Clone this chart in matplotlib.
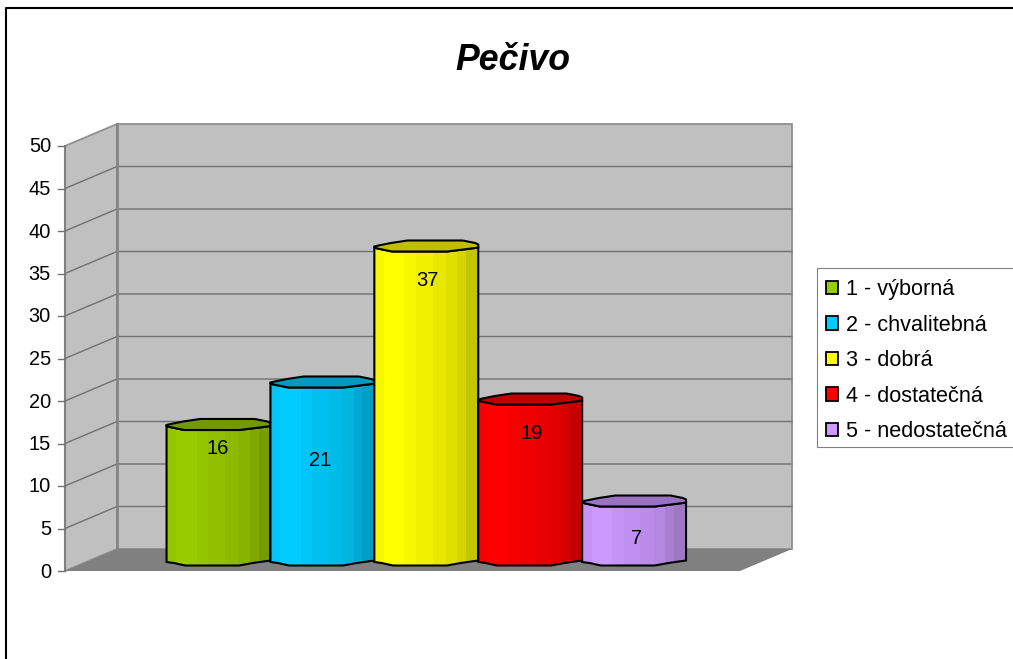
import matplotlib
matplotlib.use("Agg")
import matplotlib.pyplot as plt
from matplotlib.patches import Patch, Polygon
import numpy as np

plt.rcParams["font.family"] = ["Liberation Sans", "DejaVu Sans"]

title = "Pečivo"
categories = ["1 - výborná", "2 - chvalitebná", "3 - dobrá", "4 - dostatečná", "5 - nedostatečná"]
values = [16, 21, 37, 19, 7]
colors = ["#99CC00", "#00CCFF", "#FFFF00", "#FF0000", "#CC99FF"]
y_ticks = list(range(0, 55, 5))

W, H = 1013, 659
PX_X = 103.9  # px per category
PX_Y = 8.5  # px per value unit
X0 = 218.5  # px of first bar centre
Y0 = 571  # px of value 0 on the front axis


def px_x(px):
    return (px - X0) / PX_X


def px_y(px):
    return (Y0 - px) / PX_Y


# depth of the 3d box, in data units
DX = 52 / PX_X
DY = 22 / PX_Y
x_l = px_x(65)
x_r = px_x(740)
y_max = y_ticks[-1]

# shape of the faceted cylinder: (fraction of width, px above corner)
top_back = [(0, 1), (0.04, 2), (0.16, 4.5), (0.32, 7), (0.85, 7), (0.97, 4.5), (1, 3)]
top_front = [(1, 0), (0.97, -0.5), (0.70, -4), (0.17, -4), (0.03, -1), (0, 0)]
bottom = [(0, 0), (0.07, -1), (0.18, -3.5), (0.70, -3.5), (0.83, -1), (1, 1.5)]
bands = [0, 0.095, 0.29, 0.40, 0.56, 0.69, 0.80, 0.885, 1]
shades = [0.97, 1.0, 0.97, 0.94, 0.91, 0.88, 0.83, 0.77]
base_lift = 9 / PX_Y  # bars stand in the middle of the floor
label_drop = [23, 77, 33, 33, 36]  # px below top of bar
label_shift = [-0.5, -2, 1, 1.5, 2]

fig = plt.figure(figsize=(W / 100, H / 100), dpi=100)
ax = fig.add_axes([0, 0, 1, 1])
ax.set_xlim(px_x(0), px_x(W))
ax.set_ylim(px_y(H), px_y(0))
ax.axis("off")

# frame round the chart
ax.plot([px_x(W + 5), px_x(6), px_x(6)], [px_y(8), px_y(8), px_y(H + 5)], color="black", lw=1.5, zorder=1)

# walls and floor
wall = dict(facecolor="#C0C0C0", edgecolor="#909090", lw=1.3, zorder=2)
ax.add_patch(Polygon([(x_l, 0), (x_l + DX, DY), (x_l + DX, y_max + DY), (x_l, y_max)], **wall))
ax.add_patch(Polygon([(x_l + DX, DY), (x_r + DX, DY), (x_r + DX, y_max + DY), (x_l + DX, y_max + DY)], **wall))
ax.add_patch(Polygon([(x_l, 0), (x_l + DX, DY), (x_r + DX, DY), (x_r, 0)],
                     facecolor="#808080", edgecolor="none", zorder=3))
for t in y_ticks[1:-1]:
    ax.plot([x_l, x_l + DX, x_r + DX], [t, t + DY, t + DY], color="#707070", lw=1.0, zorder=3)
ax.plot([x_l, x_l], [0, y_max], color="#808080", lw=1.5, zorder=4)
ax.plot([x_l + DX, x_l + DX], [DY, y_max + DY], color="#858585", lw=2.0, zorder=3)

# y axis
tick = 7 / PX_X
for t in y_ticks:
    ax.plot([x_l - tick, x_l], [t, t], color="#707070", lw=1.0, zorder=4)
    ax.text(x_l - 14 / PX_X, t - 1 / PX_Y, str(t), ha="right", va="center", fontsize=14.4, color="black")

# bars
for i, (v, c) in enumerate(zip(values, colors)):
    left, right = i - 0.5, i + 0.5
    w = right - left
    rgb = np.array(matplotlib.colors.to_rgb(c))
    y_top = v + base_lift
    z = 5 + i

    outline = [(left + f * w, y_top + p / PX_Y) for f, p in top_front[::-1]]
    outline = outline + [(left + f * w, base_lift + p / PX_Y) for f, p in bottom[::-1]]
    body = Polygon(outline, closed=True, facecolor="none", edgecolor="black", lw=1.5, zorder=z + 0.3)
    ax.add_patch(body)
    for a, b, s in zip(bands[:-1], bands[1:], shades):
        band = ax.fill_between([left + a * w, left + b * w + 0.002], base_lift - 1, y_top + 1,
                               color=rgb * s, lw=0, zorder=z)
        band.set_clip_path(body)

    rim = top_back + top_front
    ax.add_patch(Polygon([(left + f * w, y_top + p / PX_Y) for f, p in rim], closed=True,
                         facecolor=rgb * 0.75, edgecolor="black", lw=1.5, zorder=z + 0.4))
    ax.text(i + label_shift[i] / PX_X, y_top - label_drop[i] / PX_Y, str(v), ha="center", va="center",
            fontsize=14.5, color="black", zorder=20)

ax.text(px_x(512.5), px_y(60), title, ha="center", va="center", fontsize=25.7,
        fontweight="bold", fontstyle="italic", color="black", zorder=20)

# legend box runs off the right edge of the picture
ax.add_patch(Polygon([(px_x(817), px_y(268)), (px_x(1020), px_y(268)), (px_x(1020), px_y(447)), (px_x(817), px_y(447))],
                     facecolor="white", edgecolor="#808080", lw=0.8, zorder=19))
handles = [Patch(facecolor=c, edgecolor="black", lw=1.3) for c in colors]
leg = ax.legend(handles, categories, loc="upper left",
                bbox_to_anchor=(817 / W, 1 - 270 / H), bbox_transform=fig.transFigure,
                fontsize=15.6, frameon=False,
                handlelength=0.56, handleheight=0.56, handletextpad=0.38, labelspacing=0.67,
                borderpad=0.42, borderaxespad=0)
leg.set_zorder(20)

fig.savefig("out.png", dpi=100)
